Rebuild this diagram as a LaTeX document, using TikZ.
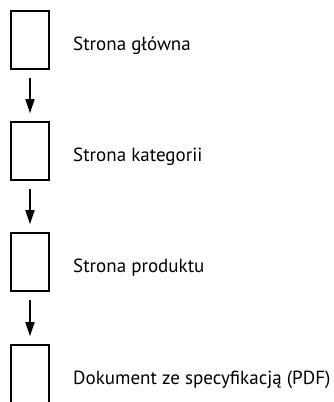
\documentclass[tikz,border=0pt]{standalone}
\usepackage{fontspec}
\setmainfont{PT Sans}
\usetikzlibrary{arrows.meta, positioning}

\begin{document}
\begin{tikzpicture}[
    x=1pt, y=1pt,
    page/.style={rectangle, draw, line width=1.6pt, minimum width=38pt, minimum height=58pt, inner sep=0pt},
    caption/.style={anchor=base west, inner sep=0pt, font=\fontsize{19}{23}\selectfont},
    arrow/.style={-{Triangle[length=14pt, width=9pt]}, line width=1.5pt, shorten <=8pt, shorten >=8pt}
]
\useasboundingbox (0,0) rectangle (333,-402);

% ===== PAGES =====
\node[page] (home) at (30,-40) {};
\node[page] (category) at (30,-151) {};
\node[page] (product) at (30,-262) {};
\node[page] (spec) at (30,-374) {};

% ===== CAPTIONS =====
\node[caption] (home_txt) at (73,-50.5) {Strona główna};
\node[caption] (category_txt) at (73,-161.5) {Strona kategorii};
\node[caption] (product_txt) at (73,-272.5) {Strona produktu};
\node[caption] (spec_txt) at (73,-384) {Dokument ze specyfikacją (PDF)};

% ===== ARROWS =====
\draw[arrow] (home.south) -- (category.north);
\draw[arrow] (category.south) -- (product.north);
\draw[arrow] (product.south) -- (spec.north);

\end{tikzpicture}
\end{document}
